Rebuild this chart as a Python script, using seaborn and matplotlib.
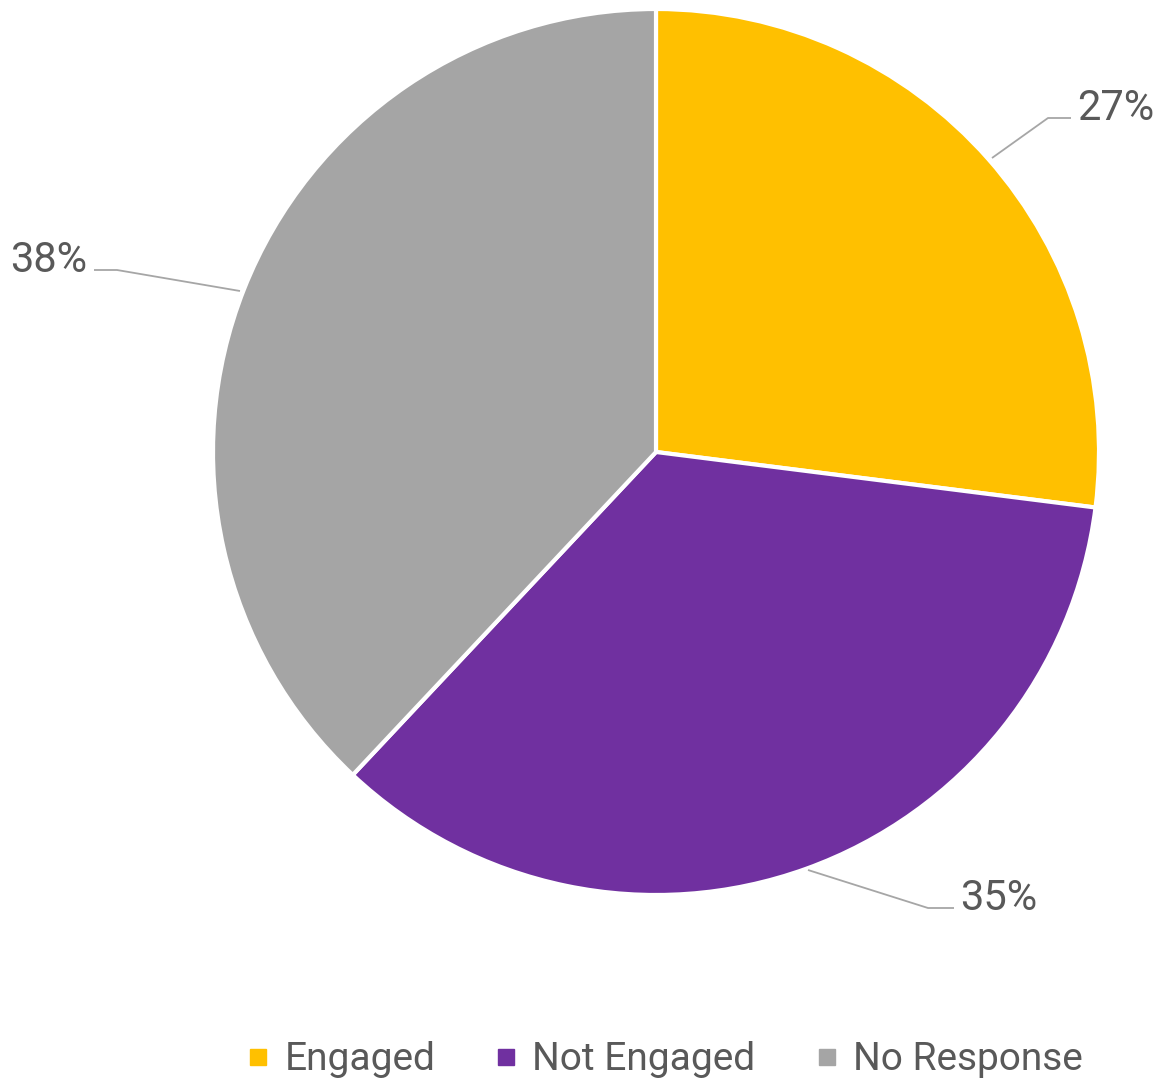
import matplotlib
matplotlib.use("Agg")
import matplotlib.pyplot as plt
from matplotlib.lines import Line2D
import seaborn as sns

# Survey response breakdown
categories = ["Engaged", "Not Engaged", "No Response"]
shares = [27, 35, 38]
colors = ["#FFC000", "#7030A0", "#A5A5A5"]

sns.set_theme(style="white")
plt.rcParams["font.family"] = ["Roboto", "DejaVu Sans"]

W, H = 1164, 1089
fig = plt.figure(figsize=(W / 100, H / 100), dpi=100)
ax = fig.add_axes([0, 0, 1, 1])

# Work in pixel-like coordinates with y pointing up
def py(y):
    return H - y

cx, cy, r = 656, 452, 443
ax.pie(shares, colors=colors, startangle=90, counterclock=False,
       center=(cx, py(cy)), radius=r,
       wedgeprops=dict(edgecolor="white", linewidth=3.0))

ax.set_xlim(0, W)
ax.set_ylim(0, H)
ax.set_aspect("equal")
ax.axis("off")

text_color = "#595959"
line_color = "#A6A6A6"

# Percentage labels with leader lines
leaders = [
    ([(992, 158), (1048, 118), (1071, 118)], (1077, 120), "left"),
    ([(808, 870), (928, 908), (954, 908)], (960, 910), "left"),
    ([(240, 291), (117, 270), (94, 270)], (87, 272), "right"),
]
for (pts, (tx, ty), ha), val in zip(leaders, shares):
    xs = [p[0] for p in pts]
    ys = [py(p[1]) for p in pts]
    ax.plot(xs, ys, color=line_color, lw=1.3, solid_capstyle="butt")
    ax.text(tx, py(ty), f"{val}%", ha=ha, va="baseline",
            fontsize=30, color=text_color)

handles = [Line2D([0], [0], marker="s", linestyle="none", markersize=12,
                  markerfacecolor=c, markeredgecolor=c) for c in colors]
leg = ax.legend(handles, categories, loc="center",
                bbox_to_anchor=(666 / W, 1 - 1060 / H), ncol=3,
                frameon=False, fontsize=28, handlelength=0.45,
                handletextpad=0.45, columnspacing=1.6,
                bbox_transform=fig.transFigure)
for t in leg.get_texts():
    t.set_color(text_color)

fig.savefig("out.png", dpi=100, facecolor="white")
